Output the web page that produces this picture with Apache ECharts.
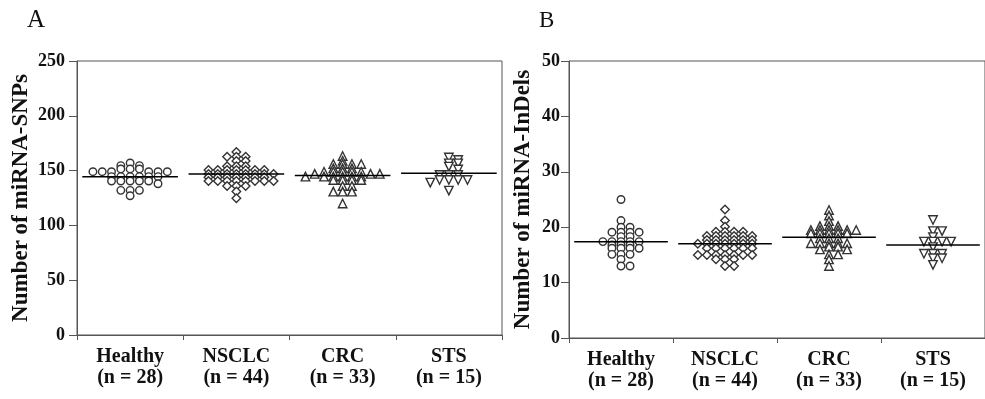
<!DOCTYPE html>
<html>
<head>
<meta charset="utf-8">
<script src="https://cdn.jsdelivr.net/npm/echarts@6/dist/echarts.min.js"></script>
<style>
  html, body { margin: 0; padding: 0; background: #fff; }
  #chart { width: 985px; height: 399px; }
</style>
</head>
<body>
<div id="chart"></div>
<script>
// categories and tick labels
const xLabels = ['Healthy\n(n = 28)', 'NSCLC\n(n = 44)', 'CRC\n(n = 33)', 'STS\n(n = 15)']
const snpTicks = [0, 50, 100, 150, 200, 250]
const indelTicks = [0, 10, 20, 30, 40, 50]

// A: miRNA-SNPs per sample
const snpHealthy = [157, 154.5, 154.5, 151.5, 151.5, 151.5, 149, 149, 149, 149, 149, 149,
  144.5, 144.5, 144.5, 144.5, 144.5, 144.5, 140.5, 140.5, 140.5, 140.5, 140.5, 138, 132, 132, 132, 127]
const snpNsclc = [167, 162.6, 162.6, 162.6, 158.8, 158.8, 154, 154, 154,
  150.5, 150.5, 150.5, 150.5, 150.5, 150.5, 150.5, 147, 147, 147, 147, 147, 147, 147, 147,
  144, 144, 144, 144, 144, 144, 144, 140.5, 140.5, 140.5, 140.5, 140.5, 140.5, 140.5, 140.5,
  136, 136, 136, 131, 124.7]
const snpCrc = [163.3, 159, 156, 156, 156, 156, 152, 152, 152, 149, 149, 149, 149, 149,
  147, 147, 147, 144.5, 144.5, 144.5, 144.5, 144.5, 144.5, 141.4, 141.4, 141.4, 141.4,
  136, 136, 130.8, 130.8, 130.8, 120]
const snpSts = [162, 159.7, 156.6, 156.6, 153.6, 151, 146, 146, 146, 141.4, 141.4, 141.4, 141.4, 139, 131.7]

// B: miRNA-InDels per sample
const indelHealthy = [25, 21.2, 20, 20, 19.1, 19.1, 19.1, 19.1, 18.3, 18.3,
  17.4, 17.4, 17.4, 17.4, 17.4, 16.8, 16.8, 16.8, 16.2, 16.2, 16.2, 16.2, 15.1, 15.1, 15.1, 14.2, 13, 13]
const indelNsclc = [23.2, 21.2, 20.1, 19.2, 19.2, 19.2, 19.2, 18.4, 18.4, 18.4, 18.4, 18.4, 18.4,
  17.7, 17.7, 17.7, 17.7, 17.7, 17.7, 17, 17, 17, 17, 17, 17, 17, 16.2, 16.2, 16.2, 16.2, 16.2, 16.2,
  15, 15, 15, 15, 15, 15, 15, 14.2, 14.2, 14.2, 13, 13]
const indelCrc = [23.1, 22.1, 21.1, 20.2, 20.2, 20.2, 19.5, 19.5, 19.5, 19.5, 19.5, 19.5,
  18.9, 18.9, 18.9, 18.9, 18.9, 18, 18, 18, 17.1, 17.1, 17.1, 17.1, 17.1, 16.5, 16.5, 16, 16, 15.1, 15.1, 14.2, 13]
const indelSts = [21.3, 19.3, 19.3, 18.2, 17.4, 17.4, 17.4, 17.4, 16.4, 15.2, 15.2, 15.2, 14.4, 14.4, 13.2]

const FONT = '"Liberation Serif", "Times New Roman", serif'
const AXIS_COLOR = '#555'
const MARK_COLOR = '#333'
const GRIDS = [
  { left: 77, top: 61, width: 425, height: 274 },
  { left: 569, top: 61, width: 427, height: 277 }
]
const DOT_GAP = 9.3   // px between neighbouring dots in a row
const ROW_CLASH = 3   // px: rows closer than this must not share a column
const symbols = [
  { symbol: 'circle', size: 7.5, rotate: 0 },
  { symbol: 'diamond', size: 8.5, rotate: 0 },
  { symbol: 'triangle', size: 8.5, rotate: 0 },
  { symbol: 'triangle', size: 8.5, rotate: 180 }
]

// column-scatter layout: each dot takes the free slot nearest the centre
const swarm = (values, idx, grid, yRange) => {
  const pxPerUnitY = grid.height / yRange
  const pxPerCat = grid.width / 4
  const half = DOT_GAP / 2
  const placed = []
  const sorted = values.slice().sort((a, b) => b - a)
  sorted.forEach((v) => {
    const y = v * pxPerUnitY
    const near = placed.filter((p) => Math.abs(p.y - y) < ROW_CLASH)
    const bal = near.reduce((s, p) => s + Math.sign(p.x), 0)
    const first = bal > 0 ? -1 : 1
    for (let k = 0; k < 60; k++) {
      const step = Math.ceil(k / 2)
      const sign = k % 2 === 1 ? first : -first
      const x = step * half * sign
      if (near.every((p) => Math.abs(p.x - x) >= DOT_GAP * 0.9)) {
        placed.push({ x, y, v })
        break
      }
    }
  })
  return placed.map((p) => [idx + p.x / pxPerCat, p.v])
}

const mean = (arr) => arr.reduce((a, b) => a + b, 0) / arr.length

const buildSeries = (groups, axisIdx, yRange) => {
  const out = []
  groups.forEach((vals, i) => {
    out.push({
      type: 'scatter',
      xAxisIndex: axisIdx * 2 + 1,
      yAxisIndex: axisIdx,
      symbol: symbols[i].symbol,
      symbolSize: symbols[i].size,
      symbolRotate: symbols[i].rotate,
      itemStyle: { color: '#fff', borderColor: MARK_COLOR, borderWidth: 1.4, opacity: 1 },
      data: swarm(vals, i, GRIDS[axisIdx], yRange),
      z: 3
    })
    const m = mean(vals)
    out.push({
      type: 'line',
      xAxisIndex: axisIdx * 2 + 1,
      yAxisIndex: axisIdx,
      symbol: 'none',
      lineStyle: { color: '#000', width: 1.5 },
      data: [[i - 0.45, m], [i + 0.45, m]],
      z: 4
    })
  })
  return out
}

const catAxis = (gridIndex) => ({
  type: 'category',
  gridIndex,
  data: xLabels,
  boundaryGap: true,
  axisLine: { onZero: false, lineStyle: { color: AXIS_COLOR, width: 1 } },
  axisTick: { show: true, length: 5, lineStyle: { color: AXIS_COLOR } },
  axisLabel: {
    interval: 0,
    margin: 11,
    color: '#111',
    fontFamily: FONT,
    fontWeight: 'bold',
    fontSize: 20,
    lineHeight: 21
  }
})

const valXAxis = (gridIndex) => ({
  type: 'value',
  gridIndex,
  min: -0.5,
  max: 3.5,
  show: false
})

const valYAxis = (gridIndex, ticks, name, gap, margin) => ({
  type: 'value',
  gridIndex,
  min: ticks[0],
  max: ticks[ticks.length - 1],
  interval: ticks[1] - ticks[0],
  name,
  nameLocation: 'middle',
  nameGap: gap,
  nameTextStyle: { color: '#111', fontFamily: FONT, fontWeight: 'bold', fontSize: 23 },
  axisLine: { show: true, onZero: false, lineStyle: { color: AXIS_COLOR, width: 1 } },
  axisTick: { show: true, length: 8, lineStyle: { color: AXIS_COLOR } },
  axisLabel: { color: '#111', fontFamily: FONT, fontWeight: 'bold', fontSize: 18, margin },
  splitLine: { show: false }
})

const chart = echarts.init(document.getElementById('chart'), null, { renderer: 'canvas' })

chart.setOption({
  backgroundColor: '#fff',
  animation: false,
  title: [
    { text: 'A', left: 22, top: 3, textStyle: { fontFamily: FONT, fontWeight: 'normal', fontSize: 25, color: '#111' } },
    { text: 'B', left: 534, top: 4, textStyle: { fontFamily: FONT, fontWeight: 'normal', fontSize: 23, color: '#111' } }
  ],
  grid: GRIDS.map((g) => ({ ...g, show: true, borderColor: AXIS_COLOR, borderWidth: 1, backgroundColor: 'transparent' })),
  xAxis: [catAxis(0), valXAxis(0), catAxis(1), valXAxis(1)],
  yAxis: [
    valYAxis(0, snpTicks, 'Number of miRNA-SNPs', 44, 12),
    valYAxis(1, indelTicks, 'Number of miRNA-InDels', 34, 9)
  ],
  series: [
    ...buildSeries([snpHealthy, snpNsclc, snpCrc, snpSts], 0, snpTicks[snpTicks.length - 1]),
    ...buildSeries([indelHealthy, indelNsclc, indelCrc, indelSts], 1, indelTicks[indelTicks.length - 1])
  ]
})
</script>
</body>
</html>
